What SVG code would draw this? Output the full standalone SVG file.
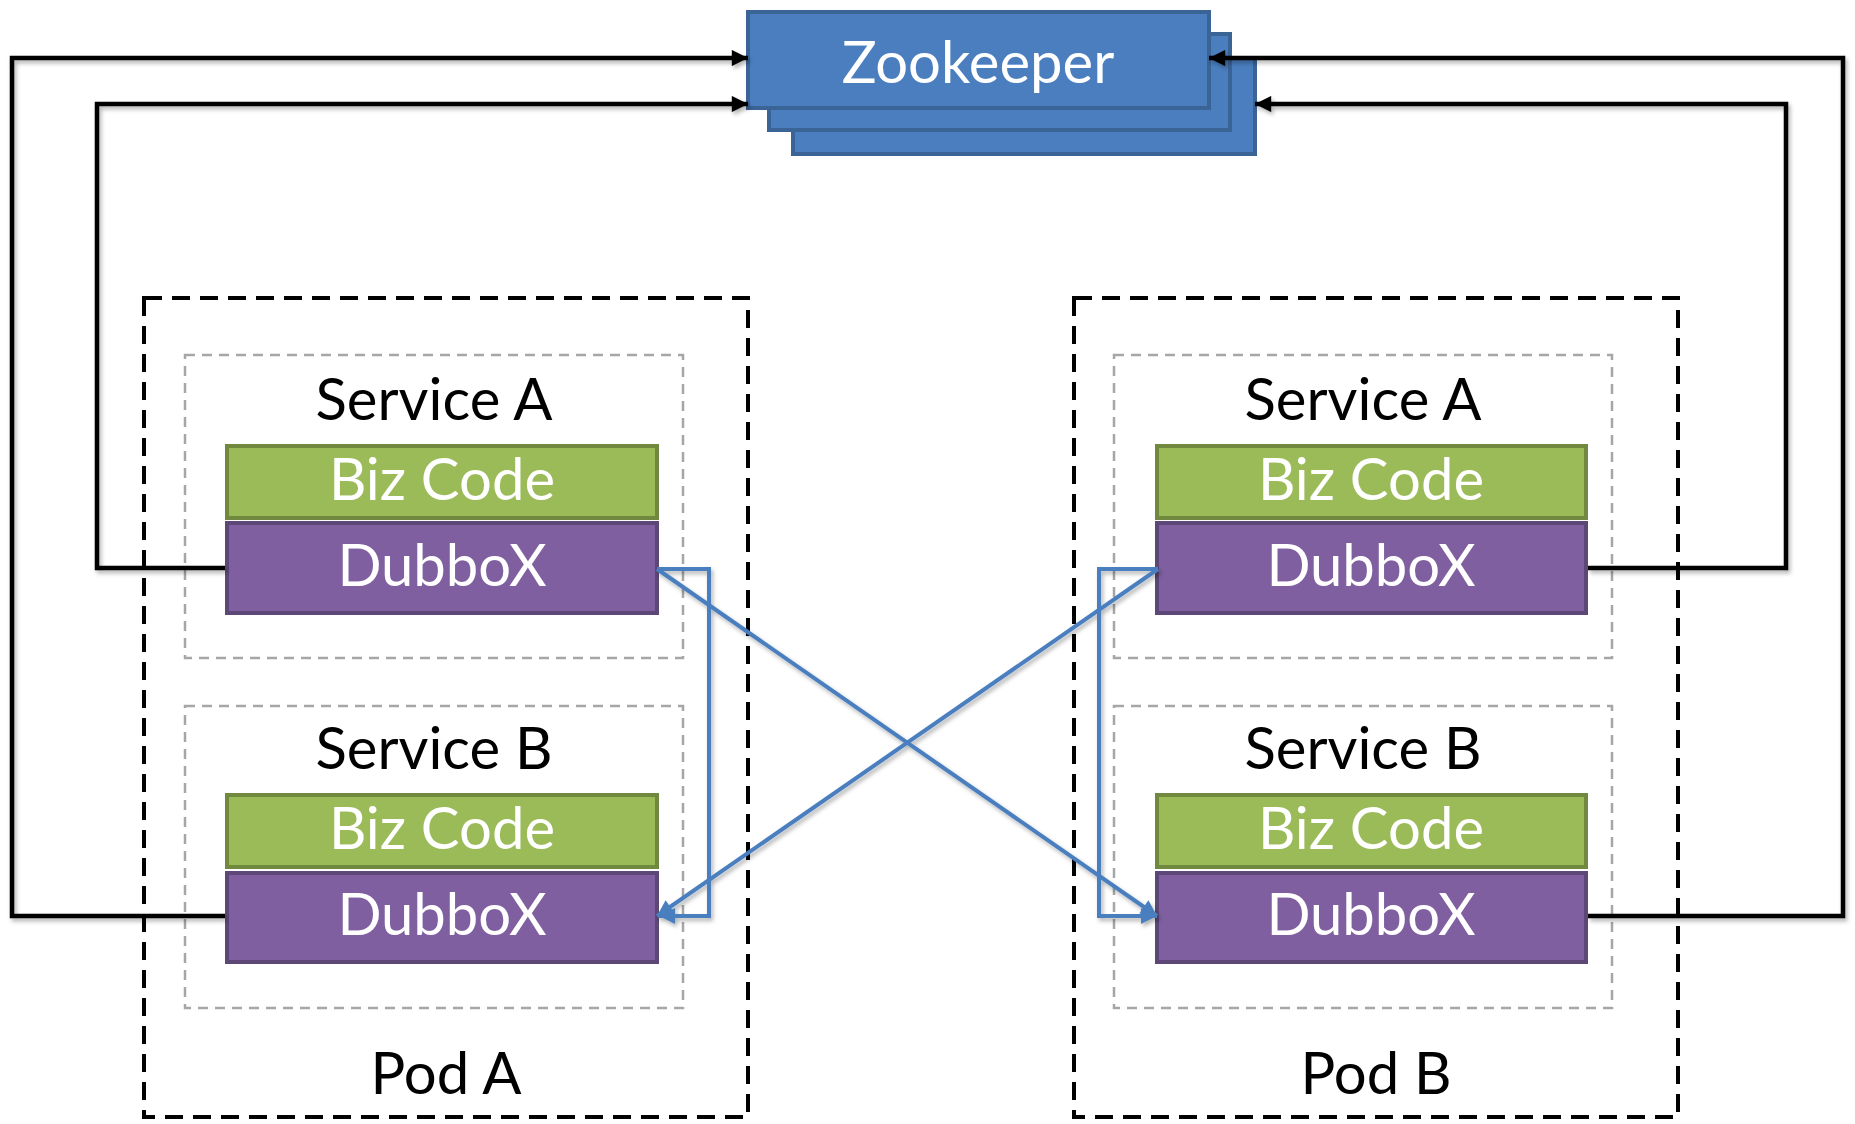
<svg xmlns="http://www.w3.org/2000/svg" width="1855" height="1124" viewBox="0 0 1855 1124">
  <style>
    .lbl { font-family: Lato, "Open Sans", "Liberation Sans", sans-serif; font-size: 58px; text-anchor: middle; }
    .wt { fill: #ffffff; }
    .bk { fill: #000000; }
    .zk { fill: #4A7EBF; stroke: #3A6396; stroke-width: 4; }
    .biz { fill: #9BBB59; stroke: #71893F; stroke-width: 4; }
    .dbx { fill: #7F5FA0; stroke: #5C4776; stroke-width: 4; }
    .pod { fill: none; stroke: #000000; stroke-width: 4; stroke-dasharray: 18 10; }
    .svc { fill: none; stroke: #A6A6A6; stroke-width: 2.5; stroke-dasharray: 10 7; }
    .blk { fill: none; stroke: #000000; stroke-width: 4.5; marker-end: url(#ab); }
    .blu { fill: none; stroke: #4A7EBF; stroke-width: 4; marker-end: url(#au); }
  </style>
  <defs>
    <marker id="ab" viewBox="0 0 10 10" markerWidth="4" markerHeight="3.6" refX="10" refY="5" orient="auto" markerUnits="strokeWidth">
      <path d="M0,0 L10,5 L0,10 z" fill="#000000"/>
    </marker>
    <marker id="au" viewBox="0 0 10 10" markerWidth="4.5" markerHeight="4" refX="10" refY="5" orient="auto" markerUnits="strokeWidth">
      <path d="M0,0 L10,5 L0,10 z" fill="#4A7EBF"/>
    </marker>
    <filter id="sh" x="-5%" y="-5%" width="110%" height="110%">
      <feDropShadow dx="2" dy="3" stdDeviation="2" flood-color="#000000" flood-opacity="0.3"/>
    </filter>
  </defs>

  <g id="zookeeper">
    <rect class="zk" x="793" y="58" width="462" height="96"/>
    <rect class="zk" x="769" y="34" width="461" height="96"/>
    <rect class="zk" x="748" y="12" width="461" height="96"/>
    <text class="lbl wt" x="978" y="83">Zookeeper</text>
  </g>

  <g id="pod-a">
    <rect class="pod" x="144" y="298" width="604" height="819"/>
    <text class="lbl bk" x="446" y="1094">Pod A</text>
  </g>
  <g id="pod-b">
    <rect class="pod" x="1074" y="298" width="604" height="819"/>
    <text class="lbl bk" x="1376" y="1094">Pod B</text>
  </g>

  <g id="pod-a-service-a">
    <rect class="svc" x="185" y="355" width="498" height="303"/>
    <text class="lbl bk" x="434" y="420">Service A</text>
    <rect class="biz" x="227" y="446" width="430" height="72"/>
    <text class="lbl wt" x="442" y="500">Biz Code</text>
    <rect class="dbx" x="227" y="523" width="430" height="90"/>
    <text class="lbl wt" x="442" y="586">DubboX</text>
  </g>
  <g id="pod-a-service-b">
    <rect class="svc" x="185" y="706" width="498" height="302"/>
    <text class="lbl bk" x="434" y="769">Service B</text>
    <rect class="biz" x="227" y="795" width="430" height="72"/>
    <text class="lbl wt" x="442" y="849">Biz Code</text>
    <rect class="dbx" x="227" y="873" width="430" height="89"/>
    <text class="lbl wt" x="442" y="935">DubboX</text>
  </g>
  <g id="pod-b-service-a">
    <rect class="svc" x="1114" y="355" width="498" height="303"/>
    <text class="lbl bk" x="1363" y="420">Service A</text>
    <rect class="biz" x="1157" y="446" width="429" height="72"/>
    <text class="lbl wt" x="1371" y="500">Biz Code</text>
    <rect class="dbx" x="1157" y="523" width="429" height="90"/>
    <text class="lbl wt" x="1371" y="586">DubboX</text>
  </g>
  <g id="pod-b-service-b">
    <rect class="svc" x="1114" y="706" width="498" height="302"/>
    <text class="lbl bk" x="1363" y="769">Service B</text>
    <rect class="biz" x="1157" y="795" width="429" height="72"/>
    <text class="lbl wt" x="1371" y="849">Biz Code</text>
    <rect class="dbx" x="1157" y="873" width="429" height="89"/>
    <text class="lbl wt" x="1371" y="935">DubboX</text>
  </g>

  <g id="connectors">
    <g filter="url(#sh)">
      <path class="blk" d="M225,916 H12 V58 H748"/>
      <path class="blk" d="M225,568 H97 V104 H748"/>
      <path class="blk" d="M1588,916 H1843 V58 H1209"/>
      <path class="blk" d="M1588,568 H1786 V104 H1255"/>
    </g>
    <g filter="url(#sh)">
      <path class="blu" d="M657,569 H709 V916 H659"/>
      <path class="blu" d="M657,569 L1157,916"/>
      <path class="blu" d="M1158,569 H1099 V916 H1157"/>
      <path class="blu" d="M1158,569 L657,916"/>
    </g>
  </g>
</svg>
